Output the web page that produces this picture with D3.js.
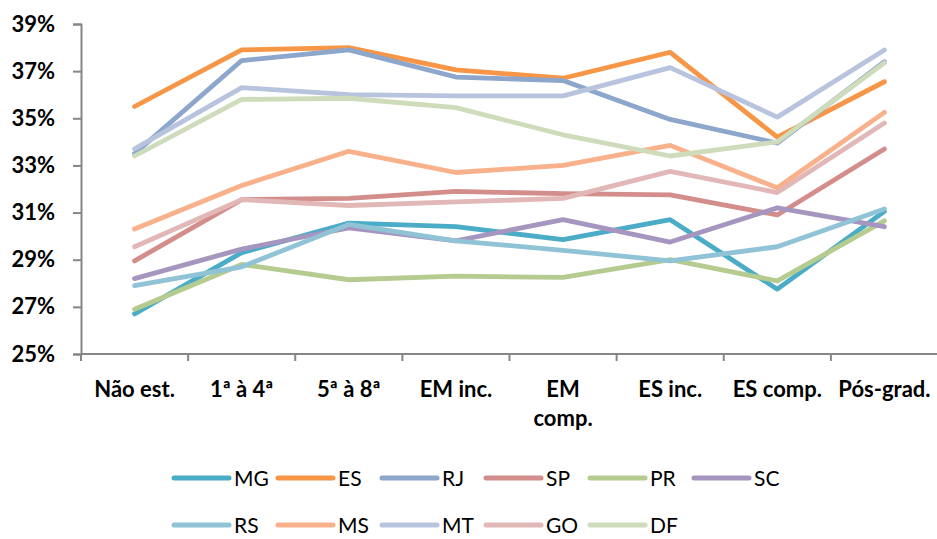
<!DOCTYPE html>
<html>
<head>
<meta charset="utf-8">
<script src="https://cdn.jsdelivr.net/npm/d3@7"></script>
<style>
  html, body { margin: 0; padding: 0; background: #fff; }
  svg { display: block; }
  text { font-family: Lato, "Open Sans", sans-serif; fill: #000; }
</style>
</head>
<body>
<svg id="chart" width="937" height="539"></svg>
<script>
// Education levels (x categories)
const categories = ["Não est.", "1ª à 4ª", "5ª à 8ª", "EM inc.", "EM comp.", "ES inc.", "ES comp.", "Pós-grad."];

// Share (%) per state and education level
const MG = [26.7, 29.3, 30.55, 30.4, 29.85, 30.7, 27.75, 31.05];
const ES = [35.5, 37.9, 38.0, 37.05, 36.7, 37.8, 34.2, 36.55];
const RJ = [33.5, 37.45, 37.9, 36.75, 36.6, 34.95, 33.95, 37.4];
const SP = [28.95, 31.55, 31.6, 31.9, 31.8, 31.75, 30.9, 33.7];
const PR = [26.9, 28.8, 28.15, 28.3, 28.25, 29.0, 28.1, 30.65];
const SC = [28.2, 29.45, 30.35, 29.8, 30.7, 29.75, 31.2, 30.4];
const RS = [27.9, 28.7, 30.5, 29.8, 29.4, 28.95, 29.55, 31.15];
const MS = [30.3, 32.15, 33.6, 32.7, 33.0, 33.85, 32.05, 35.25];
const MT = [33.7, 36.3, 36.0, 35.95, 35.95, 37.15, 35.05, 37.9];
const GO = [29.55, 31.55, 31.3, 31.45, 31.6, 32.75, 31.85, 34.8];
const DF = [33.4, 35.8, 35.85, 35.45, 34.3, 33.4, 34.0, 37.35];

const seriesNames = ["MG", "ES", "RJ", "SP", "PR", "SC", "RS", "MS", "MT", "GO", "DF"];
const seriesValues = [MG, ES, RJ, SP, PR, SC, RS, MS, MT, GO, DF];
const seriesColors = ["#4aacc6", "#f79646", "#8ca6cc", "#d38d8b", "#b5cb8f", "#a696bf",
                      "#90c3d6", "#f8b18b", "#b8c4de", "#e1b8b7", "#cfdcbb"];

const yTicks = [25, 27, 29, 31, 33, 35, 37, 39];

const svg = d3.select("#chart");
const plot = { left: 81, right: 938, top: 24, bottom: 354 };

const x = d3.scaleBand().domain(categories).range([plot.left, plot.right]).padding(0);
const y = d3.scaleLinear().domain([25, 39]).range([plot.bottom, plot.top]);

const axisColor = "#868686";

// Y axis
const yAxis = svg.append("g")
  .attr("transform", `translate(${plot.left},0)`)
  .call(d3.axisLeft(y).tickValues(yTicks).tickSize(8).tickPadding(18)
    .tickFormat(d => d + "%"));
yAxis.select(".domain").attr("stroke", axisColor).attr("stroke-width", 2);
yAxis.selectAll(".tick line").attr("stroke", axisColor).attr("stroke-width", 2);
yAxis.selectAll(".tick text")
  .attr("font-family", "Lato, sans-serif")
  .attr("font-weight", "bold")
  .attr("font-size", 22)
  .attr("fill", "#000");

// X axis: tick marks at category boundaries
const xAxisG = svg.append("g");
xAxisG.append("line")
  .attr("x1", plot.left).attr("x2", plot.right)
  .attr("y1", plot.bottom).attr("y2", plot.bottom)
  .attr("stroke", axisColor).attr("stroke-width", 2);
const bounds = categories.map(c => x(c)).concat([x(categories[categories.length - 1]) + x.bandwidth()]);
xAxisG.selectAll("line.tk").data(bounds).enter().append("line")
  .attr("class", "tk")
  .attr("x1", d => d).attr("x2", d => d)
  .attr("y1", plot.bottom).attr("y2", plot.bottom + 7)
  .attr("stroke", axisColor).attr("stroke-width", 2);

// Category labels (wrapped when wider than the band)
const xLabelLines = { "EM comp.": ["EM", "comp."] };
categories.forEach(c => {
  const lines = xLabelLines[c] || [c];
  const t = xAxisG.append("text")
    .attr("x", x(c) + x.bandwidth() / 2)
    .attr("y", 397)
    .attr("text-anchor", "middle")
    .attr("font-weight", "bold")
    .attr("font-size", 22);
  lines.forEach((ln, i) => {
    t.append("tspan").attr("x", x(c) + x.bandwidth() / 2).attr("dy", i === 0 ? 0 : 29).text(ln);
  });
});

// Series lines
const line = d3.line()
  .x((d, i) => x(categories[i]) + x.bandwidth() / 2)
  .y(d => y(d));

svg.append("g").selectAll("path")
  .data(seriesValues)
  .enter().append("path")
  .attr("d", d => line(d))
  .attr("fill", "none")
  .attr("stroke", (d, i) => seriesColors[i])
  .attr("stroke-width", 4.8)
  .attr("stroke-linejoin", "round")
  .attr("stroke-linecap", "round");

// Legend: two rows of six / five items
const legend = svg.append("g");
seriesNames.forEach((name, i) => {
  const row = Math.floor(i / 6), col = i % 6;
  const lx = 174 + col * 104, ly = 478 + row * 47;
  legend.append("line")
    .attr("x1", lx).attr("x2", lx + 55)
    .attr("y1", ly).attr("y2", ly)
    .attr("stroke", seriesColors[i])
    .attr("stroke-width", 5)
    .attr("stroke-linecap", "round");
  legend.append("text")
    .attr("x", lx + 60).attr("y", ly + 7.5)
    .attr("font-size", 21)
    .text(name);
});
</script>
</body>
</html>
